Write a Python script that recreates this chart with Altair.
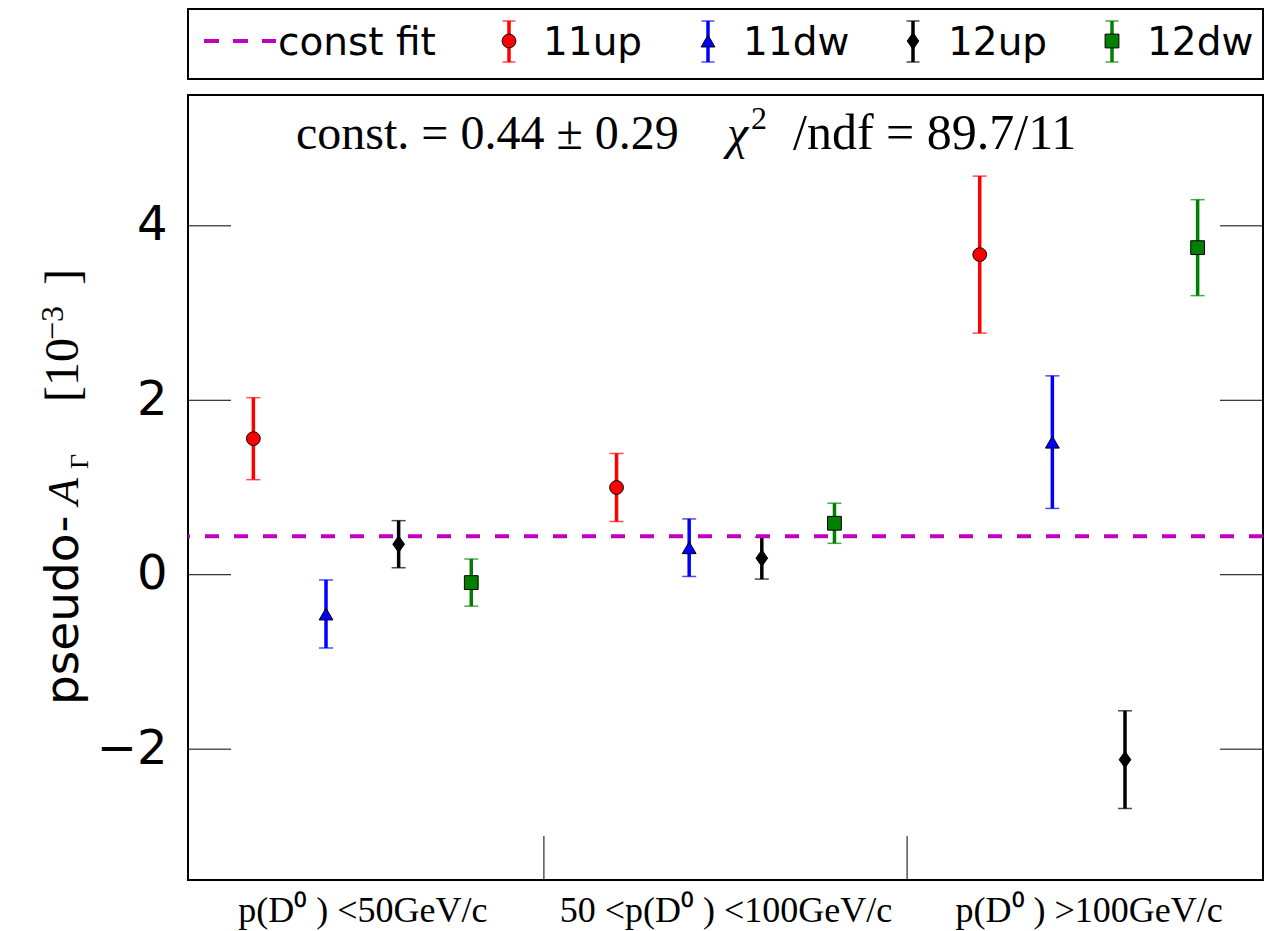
import altair as alt
import pandas as pd

# ---- data -------------------------------------------------------------
SERIES = ["11up", "11dw", "12up", "12dw"]
COLORS = ["#ff0000", "#0000ff", "#000000", "#008000"]
GROUPS = ["p(D⁰ ) <50GeV/c", "50 <p(D⁰ ) <100GeV/c", "p(D⁰ ) >100GeV/c"]

VAL_11UP = [1.56, 1.00, 3.67]
ERR_11UP = [0.47, 0.39, 0.90]
VAL_11DW = [-0.45, 0.31, 1.52]
ERR_11DW = [0.39, 0.33, 0.76]
VAL_12UP = [0.35, 0.19, -2.12]
ERR_12UP = [0.27, 0.24, 0.56]
VAL_12DW = [-0.09, 0.59, 3.75]
ERR_12DW = [0.27, 0.23, 0.55]

FIT_CONST = 0.44
FIT_ERR = 0.29
CHI2 = 89.7
NDF = 11
Y_TICKS = [-2, 0, 2, 4]

# ---- layout -----------------------------------------------------------
W, H = 1075, 785
SERIF = "Liberation Serif"
SANS = "DejaVu Sans"
MAGENTA = "#bf00bf"
THIN_DIAMOND = "M0,-1.2L0.85,0L0,1.2L-0.85,0Z"
SHAPES = ["circle", "triangle-up", THIN_DIAMOND, "square"]

values = [VAL_11UP, VAL_11DW, VAL_12UP, VAL_12DW]
errors = [ERR_11UP, ERR_11DW, ERR_12UP, ERR_12DW]
rows = []
for j, s in enumerate(SERIES):
    for g in range(len(GROUPS)):
        v, e = values[j][g], errors[j][g]
        rows.append({"series": s, "x": 5 * g + j + 1, "val": v,
                     "lo": v - e, "hi": v + e})
df = pd.DataFrame(rows)

xs = alt.Scale(domain=[0.1, 14.9], nice=False, zero=False)
ys = alt.Scale(domain=[-3.5, 5.5], nice=False, zero=False)
color = alt.Color("series:N", scale=alt.Scale(domain=SERIES, range=COLORS), legend=None)
shape = alt.Shape("series:N", scale=alt.Scale(domain=SERIES, range=SHAPES), legend=None)

label_expr = (f"datum.value < 5 ? '{GROUPS[0]}' : "
              f"datum.value < 10 ? '{GROUPS[1]}' : '{GROUPS[2]}'")
x_axis = alt.Axis(values=[2.5, 7.5, 12.5], labelExpr=label_expr, title=None,
                  ticks=False, tickSize=0, domain=False, grid=False,
                  labelFont=SERIF, labelFontSize=36, labelColor="black",
                  labelPadding=41, labelBaseline="alphabetic", labelLimit=0,
                  labelFlush=False, labelOverlap=False)
y_axis = alt.Axis(values=Y_TICKS, format="d", title=None, ticks=False, tickSize=0,
                  domain=False, grid=False, labelFont=SANS, labelFontSize=48,
                  labelColor="black", labelPadding=21)

one = pd.DataFrame({"k": [0]})

# inward tick marks on both sides and the bin dividers
ticks_df = pd.DataFrame({"t": Y_TICKS})
left_ticks = alt.Chart(ticks_df).mark_rule(color="black", strokeWidth=1).encode(
    y=alt.Y("t:Q", scale=ys), x=alt.value(0), x2=alt.value(43))
right_ticks = alt.Chart(ticks_df).mark_rule(color="black", strokeWidth=1).encode(
    y=alt.Y("t:Q", scale=ys), x=alt.value(W - 43), x2=alt.value(W))
dividers = alt.Chart(pd.DataFrame({"d": [5, 10]})).mark_rule(
    color="black", strokeWidth=1).encode(
    x=alt.X("d:Q", scale=xs), y=alt.value(H - 44), y2=alt.value(H))

# error bars
bars = alt.Chart(df).mark_rule(strokeWidth=3.5).encode(
    x=alt.X("x:Q", scale=xs, axis=x_axis),
    y=alt.Y("lo:Q", scale=ys, axis=y_axis),
    y2="hi:Q",
    color=color)
caps_lo = alt.Chart(df).mark_tick(orient="horizontal", size=14, thickness=1.5).encode(
    x=alt.X("x:Q", scale=xs), y=alt.Y("lo:Q", scale=ys), color=color)
caps_hi = alt.Chart(df).mark_tick(orient="horizontal", size=14, thickness=1.5).encode(
    x=alt.X("x:Q", scale=xs), y=alt.Y("hi:Q", scale=ys), color=color)

# constant fit
fit_line = alt.Chart(pd.DataFrame({"c": [FIT_CONST]})).mark_rule(
    color=MAGENTA, strokeWidth=4, strokeDash=[14, 15]).encode(
    y=alt.Y("c:Q", scale=ys))

points = alt.Chart(df).mark_point(filled=True, opacity=1, stroke="black",
                                  strokeWidth=1, size=190).encode(
    x=alt.X("x:Q", scale=xs), y=alt.Y("val:Q", scale=ys),
    color=color, shape=shape)

# fit result annotation
def label(text, x, y, size=48, font=SERIF, style="normal", angle=0):
    return alt.Chart(one).mark_text(
        text=text, font=font, fontSize=size, fontStyle=style, angle=angle,
        align="left", baseline="alphabetic", color="black").encode(
        x=alt.value(x), y=alt.value(y))

ann = [
    label(f"const. = {FIT_CONST:.2f} ± {FIT_ERR:.2f}", 108, 54),
    label("χ", 539, 54, style="italic"),
    label("2", 563, 34, size=32),
    label(f"/ndf = {CHI2}/{NDF}", 605, 54, size=50),
]

# y-axis title, built from pieces
ytitle = [
    label("pseudo-", -110, 610, size=47, font=SANS, angle=270),
    label("A", -110, 410, size=44, style="italic", angle=270),
    label("Γ", -100, 374, size=26, angle=270),
    label("[10", -110, 307, size=48, angle=270),
    label("−3", -125, 245, size=32, angle=270),
    label("]", -110, 190, size=48, angle=270),
]

# legend above the plot
LEG_MARK_X = [321, 520, 725, 924]
LEG_TEXT_X = [355, 555, 760, 959]
leg_df = pd.DataFrame({"series": SERIES, "lx": LEG_MARK_X, "tx": LEG_TEXT_X})
leg_box = alt.Chart(one).mark_rect(fillOpacity=0, stroke="black", strokeWidth=2).encode(
    x=alt.value(0), x2=alt.value(W), y=alt.value(-86), y2=alt.value(-16))
leg_dash = alt.Chart(one).mark_rule(color=MAGENTA, strokeWidth=4, strokeDash=[15, 14]).encode(
    x=alt.value(16), x2=alt.value(88), y=alt.value(-54))
leg_fit_text = label("const fit", 90, -40, size=39, font=SANS)
leg_bars = alt.Chart(leg_df).mark_rule(strokeWidth=3.5).encode(
    x=alt.X("lx:Q", scale=None), y=alt.value(-74), y2=alt.value(-33), color=color)
leg_cap_top = alt.Chart(leg_df).mark_tick(orient="horizontal", size=13, thickness=1.5).encode(
    x=alt.X("lx:Q", scale=None), y=alt.value(-74), color=color)
leg_cap_bot = alt.Chart(leg_df).mark_tick(orient="horizontal", size=13, thickness=1.5).encode(
    x=alt.X("lx:Q", scale=None), y=alt.value(-33), color=color)
leg_pts = alt.Chart(leg_df).mark_point(filled=True, opacity=1, stroke="black",
                                       strokeWidth=1, size=190).encode(
    x=alt.X("lx:Q", scale=None), y=alt.value(-54), color=color, shape=shape)
leg_text = alt.Chart(leg_df).mark_text(font=SANS, fontSize=39, align="left",
                                       baseline="alphabetic", color="black").encode(
    x=alt.X("tx:Q", scale=None), y=alt.value(-40), text="series:N")

chart = alt.layer(
    bars, caps_lo, caps_hi, left_ticks, right_ticks, dividers, fit_line, points,
    *ann, *ytitle,
    leg_box, leg_dash, leg_fit_text, leg_bars, leg_cap_top, leg_cap_bot, leg_pts, leg_text,
).properties(
    width=W, height=H,
    autosize=alt.AutoSizeParams(type="none"),
    padding={"left": 188, "top": 95, "right": 13, "bottom": 51},
).configure_view(stroke="black", strokeWidth=2)

chart.save("out.html", embed_options={"renderer": "svg", "actions": False})
